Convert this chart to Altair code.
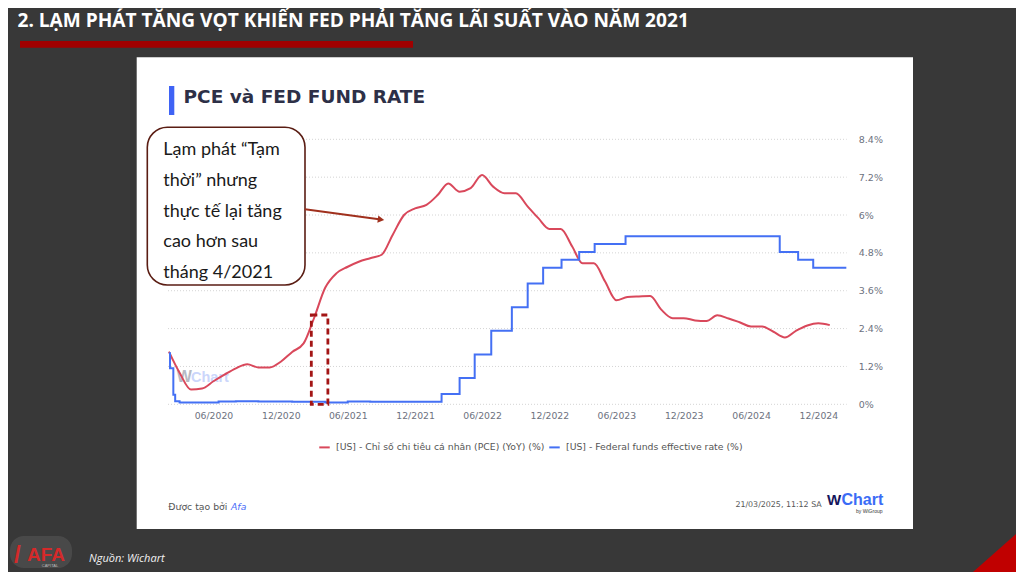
import altair as alt
import pandas as pd

# ---------------- data ----------------
PCE_NAME = "[US] - Chỉ số chi tiêu cá nhân (PCE) (YoY) (%)"
FED_NAME = "[US] - Federal funds effective rate (%)"

pce_months = [
    "2020-02", "2020-03", "2020-04", "2020-05", "2020-06", "2020-07", "2020-08",
    "2020-09", "2020-10", "2020-11", "2020-12",
    "2021-01", "2021-02", "2021-03", "2021-04", "2021-05", "2021-06", "2021-07",
    "2021-08", "2021-09", "2021-10", "2021-11", "2021-12",
    "2022-01", "2022-02", "2022-03", "2022-04", "2022-05", "2022-06", "2022-07",
    "2022-08", "2022-09", "2022-10", "2022-11", "2022-12",
    "2023-01", "2023-02", "2023-03", "2023-04", "2023-05", "2023-06", "2023-07",
    "2023-08", "2023-09", "2023-10", "2023-11", "2023-12",
    "2024-01", "2024-02", "2024-03", "2024-04", "2024-05", "2024-06", "2024-07",
    "2024-08", "2024-09", "2024-10", "2024-11", "2024-12",
    "2025-01",
]
pce_values = [
    1.67, 1.0, 0.47, 0.5, 0.73, 0.94, 1.14, 1.27, 1.17, 1.17, 1.35,
    1.66, 1.93, 2.72, 3.7, 4.15, 4.36, 4.52, 4.63, 4.74, 5.37, 6.0, 6.21,
    6.32, 6.64, 7.0, 6.74, 6.85, 7.27, 6.9, 6.69, 6.69, 6.3, 5.9, 5.56,
    5.56, 5.0, 4.47, 4.47, 3.9, 3.3, 3.4, 3.42, 3.43, 3.0, 2.73, 2.73,
    2.66, 2.64, 2.82, 2.72, 2.6, 2.47, 2.47, 2.3, 2.12, 2.33, 2.5, 2.57,
    2.51,
]

fed_dates = [
    "2020-02-01", "2020-02-04", "2020-02-13", "2020-02-18", "2020-03-01",
    "2020-05-01", "2020-06-15", "2020-08-01", "2020-10-01", "2021-01-01",
    "2021-04-01", "2021-06-01", "2021-08-01", "2021-12-01",
    "2022-02-11", "2022-04-01", "2022-05-12", "2022-06-26", "2022-08-21",
    "2022-10-03", "2022-11-14", "2023-01-03", "2023-02-20", "2023-04-03",
    "2023-06-26", "2024-08-18", "2024-10-07", "2024-11-17", "2025-02-15",
]
fed_values = [
    1.62, 1.14, 0.3, 0.1, 0.06,
    0.06, 0.09, 0.1, 0.09, 0.08,
    0.06, 0.09, 0.08, 0.08,
    0.33, 0.83, 1.58, 2.33, 3.08,
    3.83, 4.33, 4.58, 4.83, 5.08,
    5.33, 4.83, 4.58, 4.33, 4.33,
]

y_ticks = [0, 1.2, 2.4, 3.6, 4.8, 6, 7.2, 8.4]
x_tick_months = ["2020-06", "2020-12", "2021-06", "2021-12", "2022-06",
                 "2022-12", "2023-06", "2023-12", "2024-06", "2024-12"]

highlight_start = ["2021-02-22"]
highlight_end = ["2021-04-08"]
highlight_top = [2.83]
highlight_bottom = [0]

callout_lines = ["Lạm phát “Tạm", "thời” nhưng", "thực tế lại tăng",
                 "cao hơn sau", "tháng 4/2021"]

# ---------------- layout ----------------
W, H = 678.7, 265          # plot area
OX, OY = 168, 139.3        # page position of plot origin
TOTAL_W, TOTAL_H = 1008, 564

RED = "#d9485b"
BLUE = "#4470f4"


def px(x):
    return x - OX


def py(y):
    return y - OY


one = pd.DataFrame({"k": [0]})


def box(x1, y1, x2, y2, **kw):
    return alt.Chart(one).mark_rect(**kw).encode(
        x=alt.value(px(x1)), x2=alt.value(px(x2)),
        y=alt.value(py(y1)), y2=alt.value(py(y2)))


def label(text, x, y, **kw):
    return alt.Chart(one).mark_text(text=text, **kw).encode(
        x=alt.value(px(x)), y=alt.value(py(y)))


def dt(s, hours=0):
    parts = s.split("-")
    d = int(parts[2]) if len(parts) > 2 else 1
    return alt.DateTime(year=int(parts[0]), month=int(parts[1]), date=d, hours=hours)


xscale = alt.Scale(domain=[dt("2020-01-29", 12), dt("2025-02-16")])
yscale = alt.Scale(domain=[0, 8.4], nice=False, zero=True)

xaxis = alt.Axis(values=[dt(m) for m in x_tick_months], format="%m/%Y",
                 grid=False, domain=False, ticks=False, tickSize=0,
                 labelPadding=7.5, labelFont="DejaVu Sans", labelFontSize=9.3,
                 labelColor="#6d7280", title=None, labelAngle=0, zindex=2)
yaxis = alt.Axis(orient="right", values=y_ticks, labelExpr="datum.value + '%'",
                 grid=False, domain=False, ticks=False, tickSize=0,
                 labelPadding=11.6, labelFont="DejaVu Sans", labelFontSize=9.5,
                 labelColor="#6d7280", labelAlign="left", title=None, zindex=2)

legend = alt.Legend(orient="none", legendX=150, legendY=301.5,
                    direction="horizontal", title=None, symbolType="stroke",
                    symbolStrokeWidth=2, symbolSize=110, labelFont="DejaVu Sans",
                    labelFontSize=9.3, labelColor="#555555", columnPadding=0,
                    labelOffset=5, labelLimit=500, padding=0)
color_enc = alt.Color("series:N",
                      scale=alt.Scale(domain=[PCE_NAME, FED_NAME], range=[RED, BLUE]),
                      legend=legend)

pce_df = pd.DataFrame({"date": [m + "-01T00:00:00" for m in pce_months],
                       "value": pce_values, "series": PCE_NAME})
fed_df = pd.DataFrame({"date": [d + "T00:00:00" for d in fed_dates],
                       "value": fed_values, "series": FED_NAME})

# ---------------- layers ----------------
slide_title = label("2. LẠM PHÁT TĂNG VỌT KHIẾN FED PHẢI TĂNG LÃI SUẤT VÀO NĂM 2021",
                    17.5, 27, align="left", baseline="alphabetic",
                    font="Open Sans", fontWeight="bold", fontSize=19.1, color="#ffffff")
red_bar = box(20, 41, 413, 47.7, color="#a00000")
card = box(136.7, 57.3, 913, 529, color="#ffffff")
accent = box(169, 86, 174.3, 115, color="#3f63f5")
card_title = label("PCE và FED FUND RATE", 183.5, 102.7, align="left",
                   baseline="alphabetic", font="DejaVu Sans", fontWeight="bold",
                   fontSize=18.5, color="#2d3047")

grid = alt.Chart(pd.DataFrame({"value": y_ticks})).mark_rule(
    color="#d4d4d4", strokeDash=[1, 2], strokeWidth=1).encode(
    y=alt.Y("value:Q", scale=yscale, axis=yaxis),
    x=alt.value(0), x2=alt.value(W))

wm_w = label("W", 176.7, 382, align="left", baseline="alphabetic",
             font="Liberation Sans", fontWeight="bold", fontSize=16, color="#b7bac4")
wm_c = label("Chart", 191, 382, align="left", baseline="alphabetic",
             font="Liberation Sans", fontWeight="bold", fontSize=14.5, color="#cbd6fb")

red_line = alt.Chart(pce_df).mark_line(interpolate="monotone", strokeWidth=2).encode(
    x=alt.X("date:T", scale=xscale, axis=xaxis),
    y=alt.Y("value:Q", scale=yscale, axis=yaxis),
    color=color_enc)
blue_line = alt.Chart(fed_df).mark_line(interpolate="step-after", strokeWidth=2).encode(
    x=alt.X("date:T", scale=xscale, axis=xaxis),
    y=alt.Y("value:Q", scale=yscale, axis=yaxis),
    color=color_enc)

hl_df = pd.DataFrame({"start": [s + "T00:00:00" for s in highlight_start],
                      "end": [s + "T00:00:00" for s in highlight_end],
                      "top": highlight_top, "bottom": highlight_bottom})
highlight = alt.Chart(hl_df).mark_rect(
    fillOpacity=0, stroke="#a31515", strokeDash=[6, 4], strokeWidth=2.8).encode(
    x=alt.X("start:T", scale=xscale, axis=xaxis), x2="end:T",
    y=alt.Y("top:Q", scale=yscale, axis=yaxis), y2="bottom:Q")

callout_box = box(147.3, 127.3, 305, 285, color="#ffffff", stroke="#5a1d13",
                  strokeWidth=1.6, cornerRadius=20)
callout_text = alt.Chart(one).mark_text(
    text=callout_lines, align="left", baseline="alphabetic", lineHeight=30.8,
    font="Lato", fontSize=18, color="#1a1a1a").encode(
    x=alt.value(px(163.3)), y=alt.value(py(155)))

arrow_line = alt.Chart(one).mark_rule(color="#a0301d", strokeWidth=2).encode(
    x=alt.value(px(305)), y=alt.value(py(209.3)),
    x2=alt.value(px(379)), y2=alt.value(py(219.2)))
arrow_head = alt.Chart(one).mark_point(
    shape="triangle-right", angle=7.6, filled=True, size=55, opacity=1,
    color="#a0301d").encode(x=alt.value(px(381)), y=alt.value(py(219.5)))

made_by = label("Được tạo bởi", 168.3, 507, align="left", baseline="middle",
                font="DejaVu Sans", fontSize=9.3, color="#555555")
made_by_afa = label("Afa", 231, 507, align="left", baseline="middle",
                    font="DejaVu Sans", fontSize=9.3, fontStyle="italic", color="#4a6cf7")
stamp = label("21/03/2025, 11:12 SA", 821.7, 505, align="right", baseline="middle",
              font="DejaVu Sans", fontSize=7.9, color="#555555")
logo_w = label("W", 827, 505, align="left", baseline="alphabetic",
               font="Liberation Sans", fontWeight="bold", fontSize=15, color="#15165c")
logo_c = label("Chart", 841.5, 505, align="left", baseline="alphabetic",
               font="Liberation Sans", fontWeight="bold", fontSize=16, color="#3b6cf6")
logo_by = label("by WiGroup", 882.5, 511, align="right", baseline="middle",
                font="Liberation Sans", fontSize=5, color="#333333")

source = label("Nguồn: Wichart", 89, 559, align="left", baseline="middle",
               font="Open Sans", fontStyle="italic", fontSize=11, color="#f2f2f2")
afa_glow = box(10, 536, 72, 568, color="#ffffff", opacity=0.09, cornerRadius=14)
afa_slash = label("/", 14, 563, align="left", baseline="alphabetic",
                  font="Liberation Sans", fontWeight="bold", fontSize=24, color="#d42a2a")
afa_text = label("AFA", 27, 561, align="left", baseline="alphabetic",
                 font="Liberation Sans", fontWeight="bold", fontSize=19, color="#d42a2a")
afa_cap = label("CAPITAL", 50, 566, align="center", baseline="middle",
                font="Liberation Sans", fontSize=4, color="#bbbbbb")

corner = alt.Chart(one).mark_point(
    shape="M-1,0.88L1,-0.88L1,0.88Z", size=2601, filled=True, opacity=1,
    color="#c00000").encode(x=alt.value(px(998.5)), y=alt.value(py(549.5)))

chart = alt.layer(
    slide_title, red_bar, card, accent, card_title,
    grid, wm_w, wm_c,
    red_line, blue_line, highlight,
    callout_box, callout_text, arrow_line, arrow_head,
    made_by, made_by_afa, stamp, logo_w, logo_c, logo_by,
    source, afa_glow, afa_slash, afa_text, afa_cap, corner,
).properties(
    width=W, height=H,
    padding={"left": OX - 8, "top": OY - 8,
             "right": TOTAL_W - (OX - 8) - W, "bottom": TOTAL_H - (OY - 8) - H},
    autosize=alt.AutoSizeParams(type="none"),
    background="#383838",
).configure_view(stroke=None)

chart.save("out.html", embed_options={"renderer": "svg", "actions": False})
